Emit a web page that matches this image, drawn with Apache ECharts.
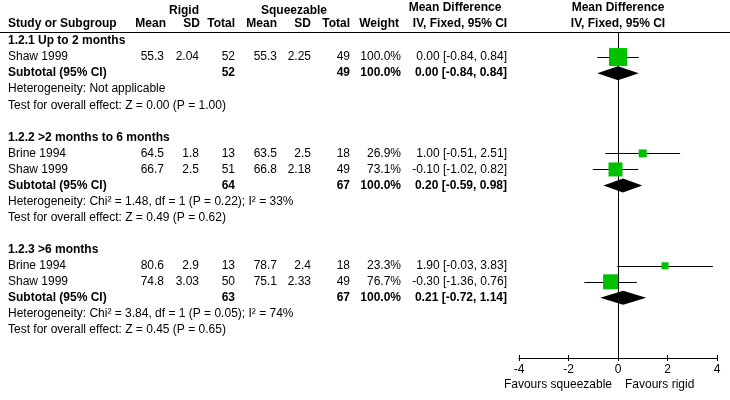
<!DOCTYPE html>
<html><head><meta charset="utf-8">
<script src="https://cdn.jsdelivr.net/npm/echarts@6/dist/echarts.min.js"></script>
<style>html,body{margin:0;padding:0;background:#fff}#chart{width:730px;height:400px}</style>
</head><body><div id="chart"></div>
<script>
// ---------------- DATA ----------------
const groupTitles = ['1.2.1 Up to 2 months', '1.2.2 >2 months to 6 months', '1.2.3 >6 months'];
const studyNames = ['Shaw 1999', 'Brine 1994', 'Shaw 1999', 'Brine 1994', 'Shaw 1999'];
const studyGroup = [0, 1, 1, 2, 2];
const rigidMean = [55.3, 64.5, 66.7, 80.6, 74.8];
const rigidSD = [2.04, 1.8, 2.5, 2.9, 3.03];
const rigidTotal = [52, 13, 51, 13, 50];
const squeezMean = [55.3, 63.5, 66.8, 78.7, 75.1];
const squeezSD = [2.25, 2.5, 2.18, 2.4, 2.33];
const squeezTotal = [49, 18, 49, 18, 49];
const studyWeight = [100.0, 26.9, 73.1, 23.3, 76.7];
const studyMD = [0.00, 1.00, -0.10, 1.90, -0.30];
const studyLo = [-0.84, -0.51, -1.02, -0.03, -1.36];
const studyHi = [0.84, 2.51, 0.82, 3.83, 0.76];
const subRigidTotal = [52, 64, 63];
const subSqueezTotal = [49, 67, 67];
const subWeight = [100.0, 100.0, 100.0];
const subMD = [0.00, 0.20, 0.21];
const subLo = [-0.84, -0.59, -0.72];
const subHi = [0.84, 0.98, 1.14];
const heterogeneity = [
  'Heterogeneity: Not applicable',
  'Heterogeneity: Chi\u00b2 = 1.48, df = 1 (P = 0.22); I\u00b2 = 33%',
  'Heterogeneity: Chi\u00b2 = 3.84, df = 1 (P = 0.05); I\u00b2 = 74%'
];
const overallEffect = [
  'Test for overall effect: Z = 0.00 (P = 1.00)',
  'Test for overall effect: Z = 0.49 (P = 0.62)',
  'Test for overall effect: Z = 0.45 (P = 0.65)'
];
const subtotalLabel = 'Subtotal (95% CI)';
const xTicks = [-4, -2, 0, 2, 4];
const favoursLeft = 'Favours squeezable';
const favoursRight = 'Favours rigid';

// ---------------- LAYOUT / STYLE ----------------
const FONT = 'Arial, "Liberation Sans", sans-serif';
const FS = 12;
const GREEN = '#00C000';
const cols = {
  name: {x: 8, align: 'left'},
  rm: {x: 164, align: 'right'},
  rsd: {x: 199, align: 'right'},
  rt: {x: 235, align: 'right'},
  sm: {x: 277, align: 'right'},
  ssd: {x: 311, align: 'right'},
  st: {x: 350, align: 'right'},
  w: {x: 401, align: 'right'},
  md: {x: 507, align: 'right'}
};

// build rows
const rows = [];
groupTitles.forEach((t, g) => {
  rows.push({type: 'title', g});
  studyNames.forEach((n, i) => { if (studyGroup[i] === g) rows.push({type: 'study', i}); });
  rows.push({type: 'sub', g});
  rows.push({type: 'het', g});
  rows.push({type: 'test', g});
  if (g < groupTitles.length - 1) rows.push({type: 'blank'});
});
const rowCats = rows.map((r, k) => 'r' + k);

const f2 = v => v.toFixed(2);
const ci = (m, l, h) => f2(m) + ' [' + f2(l) + ', ' + f2(h) + ']';
const cells = [];
const add = (row, col, text, bold) => cells.push({row, col, text: String(text), bold: !!bold});
const squares = [], whiskers = [], diamonds = [];
rows.forEach((r, k) => {
  if (r.type === 'title') add(k, 'name', groupTitles[r.g], true);
  else if (r.type === 'study') {
    const i = r.i;
    add(k, 'name', studyNames[i]);
    add(k, 'rm', rigidMean[i]); add(k, 'rsd', rigidSD[i]); add(k, 'rt', rigidTotal[i]);
    add(k, 'sm', squeezMean[i]); add(k, 'ssd', squeezSD[i]); add(k, 'st', squeezTotal[i]);
    add(k, 'w', studyWeight[i].toFixed(1) + '%');
    add(k, 'md', ci(studyMD[i], studyLo[i], studyHi[i]));
    squares.push([studyMD[i], k, studyWeight[i]]);
    whiskers.push([studyLo[i], k, studyHi[i]]);
  } else if (r.type === 'sub') {
    const g = r.g;
    add(k, 'name', subtotalLabel, true);
    add(k, 'rt', subRigidTotal[g], true);
    add(k, 'st', subSqueezTotal[g], true);
    add(k, 'w', subWeight[g].toFixed(1) + '%', true);
    add(k, 'md', ci(subMD[g], subLo[g], subHi[g]), true);
    diamonds.push([subLo[g], k, subMD[g], subHi[g]]);
  } else if (r.type === 'het') add(k, 'name', heterogeneity[r.g]);
  else if (r.type === 'test') add(k, 'name', overallEffect[r.g]);
});

const chart = echarts.init(document.getElementById('chart'), null, {renderer: 'canvas'});
const crisp = v => Math.round(v) + 0.5;

function hdr(text, x, y, align, bold) {
  return {type: 'text', x, y, silent: true,
    style: {text, fill: '#000', font: (bold ? 'bold ' : '') + FS + 'px ' + FONT, align, verticalAlign: 'middle'}};
}

chart.setOption({
  animation: false,
  backgroundColor: '#fff',
  grid: {left: 519, width: 198, top: 33, height: 305},
  xAxis: [{
    type: 'value', min: xTicks[0], max: xTicks[xTicks.length - 1], interval: 2,
    position: 'bottom', offset: 20,
    axisLine: {show: true, lineStyle: {color: '#000', width: 1}},
    axisTick: {show: true, length: 3, inside: false, lineStyle: {color: '#000'}},
    axisLabel: {color: '#000', fontSize: FS, fontFamily: FONT, margin: 6},
    splitLine: {show: false}
  }, {
    type: 'value', min: xTicks[0], max: xTicks[xTicks.length - 1], interval: 2,
    position: 'bottom', offset: 20,
    axisLine: {show: false},
    axisTick: {show: true, length: 3, inside: true, lineStyle: {color: '#000'}},
    axisLabel: {show: false},
    splitLine: {show: false}
  }],
  yAxis: {type: 'category', data: rowCats, inverse: true, show: false},
  graphic: [
    {type: 'line', silent: true, shape: {x1: 0, y1: 32.5, x2: 730, y2: 32.5}, style: {stroke: '#000', lineWidth: 1}},
    hdr('Rigid', 184, 11, 'center', true),
    hdr('Squeezable', 294, 11, 'center', true),
    hdr('Mean Difference', 455, 8, 'center', true),
    hdr('Mean Difference', 618, 8, 'center', true),
    hdr('Study or Subgroup', 8, 24, 'left', true),
    hdr('Mean', 166, 24, 'right', true),
    hdr('SD', 200, 24, 'right', true),
    hdr('Total', 235, 24, 'right', true),
    hdr('Mean', 277, 24, 'right', true),
    hdr('SD', 311, 24, 'right', true),
    hdr('Total', 350, 24, 'right', true),
    hdr('Weight', 399, 24, 'right', true),
    hdr('IV, Fixed, 95% CI', 460, 24, 'center', true),
    hdr('IV, Fixed, 95% CI', 618, 24, 'center', true),
    hdr(favoursLeft, 612, 385, 'right', false),
    hdr(favoursRight, 625, 385, 'left', false)
  ],
  series: [
    { // zero line
      type: 'custom', clip: false, silent: true, z: 1,
      data: [[0, 0]],
      renderItem: (params, api) => {
        const x = crisp(api.coord([0, 0])[0]);
        const cs = params.coordSys;
        return {type: 'line', shape: {x1: x, y1: cs.y - 1, x2: x, y2: cs.y + cs.height + 20},
          style: {stroke: '#000', lineWidth: 1}};
      }
    },
    { // whiskers
      type: 'custom', clip: false, silent: true, z: 2,
      data: whiskers, encode: {x: [0, 2], y: 1},
      renderItem: (params, api) => {
        const a = api.coord([api.value(0), api.value(1)]);
        const b = api.coord([api.value(2), api.value(1)]);
        const y = crisp(a[1]);
        return {type: 'line', shape: {x1: a[0], y1: y, x2: b[0], y2: y}, style: {stroke: '#000', lineWidth: 1}};
      }
    },
    { // squares
      type: 'scatter', z: 3, silent: true,
      symbol: 'rect',
      symbolSize: v => Math.round(4 + 14 * v[2] / 100),
      itemStyle: {color: GREEN, opacity: 1},
      data: squares
    },
    { // diamonds
      type: 'custom', clip: false, silent: true, z: 3,
      data: diamonds, encode: {x: [0, 2, 3], y: 1},
      renderItem: (params, api) => {
        const r = api.value(1);
        const l = api.coord([api.value(0), r]);
        const m = api.coord([api.value(2), r]);
        const h = api.coord([api.value(3), r]);
        const y = m[1];
        return {type: 'polygon', shape: {points: [[l[0], y], [m[0], y - 7], [h[0], y], [m[0], y + 7]]},
          style: {fill: '#000'}};
      }
    },
    { // table text
      type: 'custom', clip: false, silent: true, z: 5,
      data: cells.map(c => [0, c.row]),
      renderItem: (params, api) => {
        const c = cells[params.dataIndex];
        const y = api.coord([0, api.value(1)])[1];
        const col = cols[c.col];
        return {type: 'text', x: col.x, y: y,
          style: {text: c.text, fill: '#000', font: (c.bold ? 'bold ' : '') + FS + 'px ' + FONT,
            align: col.align, verticalAlign: 'middle'}};
      }
    }
  ]
});
</script>
</body></html>
